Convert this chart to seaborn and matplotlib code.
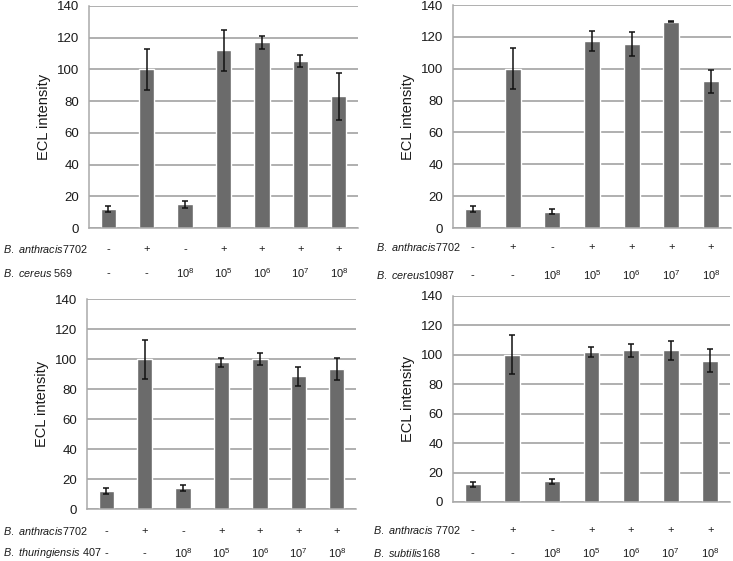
import numpy as np
import pandas as pd
import matplotlib
matplotlib.use("Agg")
import matplotlib.pyplot as plt
import matplotlib.transforms as mtransforms
import seaborn as sns

sns.set_theme(style="white")
plt.rcParams["font.family"] = ["Liberation Sans", "DejaVu Sans"]
plt.rcParams["mathtext.fontset"] = "custom"
plt.rcParams["mathtext.rm"] = "Liberation Sans"
plt.rcParams["mathtext.it"] = "Liberation Sans:italic"

# ---------------- data ----------------
categories = ["c1", "c2", "c3", "c4", "c5", "c6", "c7"]
anthracis_row = ["-", "+", "-", "+", "+", "+", "+"]
dose_row = ["-", "-", r"$\mathregular{10^{8}}$", r"$\mathregular{10^{5}}$",
            r"$\mathregular{10^{6}}$", r"$\mathregular{10^{7}}$", r"$\mathregular{10^{8}}$"]

cereus569_values = [12, 100, 15, 112, 117, 105.5, 83]
cereus569_errors = [1.7, 13, 2.1, 12.8, 4.3, 3.7, 14.6]

cereus10987_values = [12, 100, 10.3, 117.5, 115.5, 129.5, 92]
cereus10987_errors = [1.7, 13, 1.8, 6.4, 7.7, 0.2, 7.1]

thuringiensis_values = [12, 100, 14, 98, 100, 88.5, 93.5]
thuringiensis_errors = [1.9, 13, 1.9, 3, 4.3, 6.3, 7.5]

subtilis_values = [12, 100, 14, 102, 103, 103, 96]
subtilis_errors = [1.8, 13.2, 1.9, 3.3, 4.7, 6.2, 7.7]

row1_labels = [r"$\mathit{B.\ anthracis}$7702", r"$\mathit{B.\ anthracis}$7702",
               r"$\mathit{B.\ anthracis}$7702", r"$\mathit{B.\ anthracis}$ 7702"]
row2_labels = [r"$\mathit{B.\ cereus}$ 569", r"$\mathit{B.\ cereus}$10987",
               r"$\mathit{B.\ thuringiensis}$ 407", r"$\mathit{B.\ subtilis}$168"]

y_ticks = [0, 20, 40, 60, 80, 100, 120, 140]

# ---------------- layout (pixels) ----------------
W, H = 733, 561
fig = plt.figure(figsize=(W / 100, H / 100), dpi=100)

panels = [
    # left, right, top, bottom, label_x, row1_y, row2_y, values, errors
    (89, 358, 6, 228, 3, 249, 273, cereus569_values, cereus569_errors),
    (453, 731, 5, 228, 376, 247, 275, cereus10987_values, cereus10987_errors),
    (87, 356, 299, 509, 3, 531, 553, thuringiensis_values, thuringiensis_errors),
    (453, 730, 296, 502, 373, 530, 553, subtilis_values, subtilis_errors),
]

bar_color = "#6b6b6b"
grid_color = "#a9a9a9"
text_color = "#1a1a1a"

for i, (l, r, t, b, lx, r1y, r2y, vals, errs) in enumerate(panels):
    ax = fig.add_axes([l / W, 1 - b / H, (r - l) / W, (b - t) / H])
    df = pd.DataFrame({"cat": categories, "val": vals})
    sns.barplot(data=df, x="cat", y="val", order=categories, color=bar_color,
                width=0.4, ax=ax, errorbar=None, saturation=1)
    ax.errorbar(np.arange(len(categories)), vals, yerr=errs, fmt="none",
                ecolor="#111111", elinewidth=1.1, capsize=2.2, capthick=1.1, zorder=5)
    ax.set_xlim(-0.5, len(categories) - 0.5)
    ax.set_ylim(0, 140)
    ax.set_yticks(y_ticks)
    ax.set_yticklabels([str(v) for v in y_ticks], fontsize=9.5, color=text_color)
    ax.set_xticks(np.arange(-0.5, len(categories), 1))
    ax.set_xticklabels([])
    ax.set_xlabel("")
    ax.set_ylabel("ECL intensity", fontsize=10.5, color=text_color, labelpad=4)
    ax.yaxis.grid(True, color=grid_color, linewidth=1.3)
    ax.set_axisbelow(True)
    for s in ["top", "right"]:
        ax.spines[s].set_visible(False)
    for s in ["left", "bottom"]:
        ax.spines[s].set_color(grid_color)
        ax.spines[s].set_linewidth(1.1)
    ax.tick_params(axis="both", which="both", length=4, width=1, color=grid_color,
                   direction="out", pad=3)
    ax.set_facecolor("white")

    trans = mtransforms.blended_transform_factory(ax.transData, fig.transFigure)
    fig.text(lx / W, 1 - r1y / H, row1_labels[i], fontsize=7.8, color=text_color,
             ha="left", va="center")
    fig.text(lx / W, 1 - r2y / H, row2_labels[i], fontsize=7.8, color=text_color,
             ha="left", va="center")
    for j in range(len(categories)):
        ax.text(j, 1 - r1y / H, anthracis_row[j], transform=trans, fontsize=8,
                ha="center", va="center", color=text_color)
        ax.text(j, 1 - r2y / H, dose_row[j], transform=trans, fontsize=8,
                ha="center", va="center", color=text_color)

fig.savefig("out.png", dpi=100, facecolor="white")
